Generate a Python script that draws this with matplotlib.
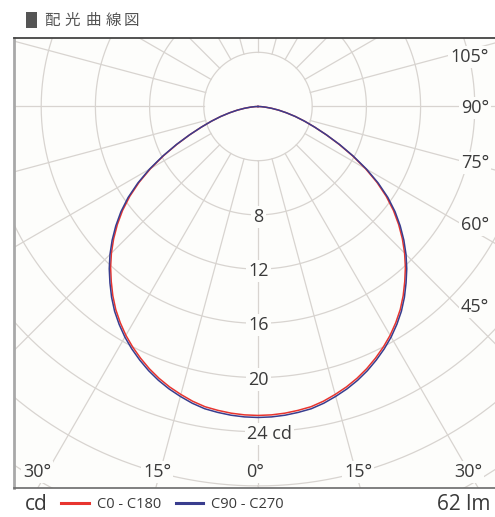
'''
配光曲線図 (C0-C180 / C90-C270) の再現プロット
'''

import numpy as np
import matplotlib
matplotlib.use('Agg')
import matplotlib.pyplot as plt
from matplotlib.lines import Line2D
from matplotlib.patches import Rectangle

# 配光データ: 鉛直角 [deg] と光度 [cd] (2.5° 刻み)
angles = [0, 2.5, 5, 7.5, 10, 12.5, 15, 17.5, 20, 22.5, 25, 27.5, 30, 32.5, 35,
          37.5, 40, 42.5, 45, 47.5, 50, 52.5, 55, 57.5, 60, 62.5, 65, 67.5, 70,
          72.5, 75, 77.5, 80, 82.5, 85, 87.5, 90]
c0_c180 = [22.8, 22.78, 22.72, 22.62, 22.5, 22.28, 22.0, 21.7, 21.35, 20.95,
           20.5, 20.02, 19.5, 18.92, 18.3, 17.6, 16.85, 16.1, 15.3, 14.45,
           13.55, 12.6, 11.55, 10.4, 9.15, 7.85, 6.6, 5.45, 4.45,
           3.6, 2.85, 2.15, 1.55, 1.0, 0.55, 0.22, 0.0]
c90_c270 = [22.95, 22.93, 22.87, 22.77, 22.65, 22.43, 22.15, 21.85, 21.5, 21.1,
            20.65, 20.17, 19.65, 19.07, 18.45, 17.75, 17.0, 16.25, 15.45, 14.6,
            13.7, 12.75, 11.7, 10.52, 9.25, 7.92, 6.65, 5.47, 4.45,
            3.6, 2.85, 2.15, 1.55, 1.0, 0.55, 0.22, 0.0]

ring_labels = [8, 12, 16, 20, 24]
right_labels = ['105°', '90°', '75°', '60°', '45°']
bottom_labels = ['30°', '15°', '0°', '15°', '30°']
lumen = 62

series_names = ['C0 - C180', 'C90 - C270']
series_colors = ['#e8352f', '#393d8e']

BG = '#fdfdfb'
GRID = '#d8d4d0'
TXT = '#3a3a3a'
NUM_FONT = ['Open Sans', 'DejaVu Sans']
JP_FONT = ['Noto Sans CJK JP', 'DejaVu Sans']


def to_xy(theta_deg, r):
	t = np.radians(theta_deg)
	return r * np.sin(t), -r * np.cos(t)


def main():
	W, H = 495, 517
	fig = plt.figure(figsize=(W / 100, H / 100), dpi=100)
	fig.patch.set_facecolor('white')

	# 枠の位置 (ピクセル) と尺度
	left, right, top, bottom = 14, 495, 38, 488
	cx, cy, scale = 258, 106.5, 13.55
	ax = fig.add_axes([left / W, 1 - bottom / H, (right - left) / W, (bottom - top) / H])
	ax.set_facecolor(BG)
	ax.set_xlim((left - cx) / scale, (right - cx) / scale)
	ax.set_ylim(-(bottom - cy) / scale, (cy - top) / scale)
	ax.set_xticks([])
	ax.set_yticks([])
	ax.spines['right'].set_visible(False)
	ax.spines['top'].set_color('#444444')
	ax.spines['top'].set_linewidth(1.3)
	ax.spines['left'].set_color('#a8a8a8')
	ax.spines['left'].set_linewidth(2.0)
	ax.spines['bottom'].set_color('#6a6a6a')
	ax.spines['bottom'].set_linewidth(1.2)

	# 同心円と放射線
	t = np.linspace(0, 360, 721)
	for r in range(4, 44, 4):
		x, y = to_xy(t, r)
		ax.plot(x, y, color=GRID, lw=0.9, zorder=1)
	for a in range(0, 360, 15):
		x, y = to_xy(np.array([a, a]), np.array([4, 45]))
		ax.plot(x, y, color=GRID, lw=0.9, zorder=1)

	# 配光曲線
	th = np.concatenate([-np.array(angles[::-1]), np.array(angles[1:])])
	for vals, col in zip([c0_c180, c90_c270], series_colors):
		r = np.concatenate([np.array(vals[::-1]), np.array(vals[1:])])
		x, y = to_xy(th, r)
		ax.plot(x, y, color=col, lw=1.1, zorder=3, solid_joinstyle='round')

	box = dict(boxstyle='square,pad=0.12', facecolor=BG, edgecolor='none')

	# 光度目盛
	for v in ring_labels:
		s = str(v)
		if v == ring_labels[-1]:
			ax.text(-0.8, -v - 0.15, s + ' cd', ha='left', va='center', fontsize=13,
				color=TXT, family=NUM_FONT, bbox=box, zorder=4)
		else:
			ax.text(0.05, -v - 0.15, s, ha='center', va='center', fontsize=13,
				color=TXT, family=NUM_FONT, bbox=box, zorder=4)

	# 右側の角度目盛
	right_y = [57, 108, 163, 225, 307]
	for s, py in zip(right_labels, right_y):
		ax.text((489 - cx) / scale, -(py - cy) / scale, s, ha='right', va='center',
			fontsize=13, color=TXT, family=NUM_FONT, bbox=box, zorder=4)

	# 下側の角度目盛
	bottom_x = [37, 157, 255, 358, 468]
	yb = -(472 - cy) / scale
	for s, px in zip(bottom_labels, bottom_x):
		ax.text((px - cx) / scale, yb, s, ha='center', va='center', fontsize=13,
			color=TXT, family=NUM_FONT, bbox=box, zorder=4)

	# タイトル (■ は縦長のブロック)
	fig.patches.append(Rectangle((26 / W, 1 - 28 / H), 11 / W, 16 / H,
		transform=fig.transFigure, facecolor='#555555', edgecolor='none'))
	title = '配光曲線図'
	title_x = [51.5, 72, 93, 113.5, 131.5]
	for ch, px in zip(title, title_x):
		fig.text(px / W, 1 - 20 / H, ch, ha='center', va='center', fontsize=11.2,
			color='#555555', family=JP_FONT)

	# 凡例
	ly = 1 - 505 / H
	fig.text(25 / W, ly, 'cd', ha='left', va='center', fontsize=15,
		color=TXT, family=NUM_FONT)
	handles = [Line2D([], [], color=c, lw=2.2) for c in series_colors]
	fig.legend(handles, series_names, loc='center left', bbox_to_anchor=(61 / W, ly),
		ncol=2, frameon=False, borderpad=0, borderaxespad=0, handlelength=1.9,
		handletextpad=0.55, columnspacing=1.0, prop={'family': NUM_FONT, 'size': 10.5},
		labelcolor=TXT)
	fig.text(490 / W, ly, '%d lm' % lumen, ha='right', va='center', fontsize=15,
		color=TXT, family=NUM_FONT)

	fig.savefig('out.png', dpi=100, facecolor='white')


if __name__ == '__main__':
	main()
